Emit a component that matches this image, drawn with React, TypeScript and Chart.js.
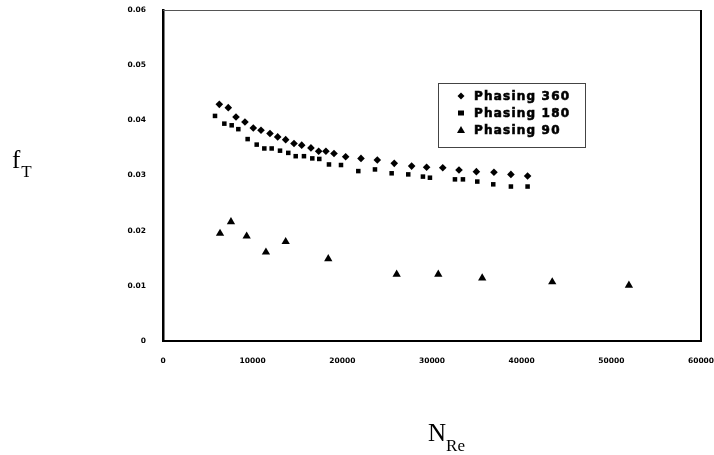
import React, { useEffect, useRef } from "react";
import { Chart, registerables } from "chart.js";

Chart.register(...registerables);

// Phasing 360 (diamonds)
const phasing360X = [6280, 7280, 8140, 9140, 10070, 10930, 11930, 12790, 13680, 14610, 15470, 16500, 17360, 18170, 19070, 20370, 22080, 23900, 25790, 27730, 29400, 31200, 33010, 34950, 36910, 38800, 40660];
const phasing360Y = [0.0429, 0.0423, 0.0406, 0.0397, 0.0386, 0.0382, 0.0376, 0.0370, 0.0365, 0.0358, 0.0355, 0.0350, 0.0344, 0.0344, 0.0340, 0.0334, 0.0331, 0.0328, 0.0322, 0.0317, 0.0315, 0.0314, 0.0310, 0.0307, 0.0306, 0.0302, 0.0299];

// Phasing 180 (squares)
const phasing180X = [5800, 6840, 7660, 8400, 9440, 10450, 11300, 12120, 13050, 13970, 14800, 15720, 16650, 17430, 18510, 19850, 21780, 23640, 25500, 27350, 28990, 29770, 32560, 33450, 35050, 36830, 38800, 40660];
const phasing180Y = [0.0408, 0.0394, 0.0391, 0.0384, 0.0366, 0.0356, 0.0349, 0.0349, 0.0345, 0.0341, 0.0335, 0.0335, 0.0331, 0.0330, 0.0320, 0.0319, 0.0308, 0.0311, 0.0304, 0.0302, 0.0298, 0.0296, 0.0293, 0.0293, 0.0289, 0.0284, 0.0280, 0.0280];

// Phasing 90 (triangles)
const phasing90X = [6360, 7580, 9330, 11480, 13680, 18430, 26060, 30700, 35600, 43410, 51960];
const phasing90Y = [0.0195, 0.0216, 0.0190, 0.0161, 0.0180, 0.0149, 0.0121, 0.0121, 0.0114, 0.0107, 0.0101];

const seriesNames = ["Phasing 360", "Phasing 180", "Phasing 90"];
const xTickValues = [0, 10000, 20000, 30000, 40000, 50000, 60000];
const yTickValues = [0, 0.01, 0.02, 0.03, 0.04, 0.05, 0.06];

const toPoints = (xs: number[], ys: number[]) => xs.map((x, i) => ({ x, y: ys[i] }));

function drawMarker(ctx: CanvasRenderingContext2D, style: string, x: number, y: number) {
  ctx.save();
  ctx.fillStyle = "#000";
  ctx.beginPath();
  if (style === "rectRot") {
    ctx.moveTo(x, y - 3.5);
    ctx.lineTo(x + 3.5, y);
    ctx.lineTo(x, y + 3.5);
    ctx.lineTo(x - 3.5, y);
    ctx.closePath();
  } else if (style === "rect") {
    ctx.rect(x - 3, y - 2.5, 6, 5);
  } else {
    ctx.moveTo(x, y - 4);
    ctx.lineTo(x + 4, y + 3);
    ctx.lineTo(x - 4, y + 3);
    ctx.closePath();
  }
  ctx.fill();
  ctx.restore();
}

const decorPlugin = {
  id: "decor",
  afterDraw(chart: any) {
    const { ctx, chartArea } = chart;
    const { left, right, top, bottom } = chartArea;
    ctx.save();
    // top & right frame
    ctx.strokeStyle = "#555";
    ctx.lineWidth = 1;
    ctx.beginPath();
    ctx.moveTo(left, top + 0.5);
    ctx.lineTo(right, top + 0.5);
    ctx.stroke();
    ctx.strokeStyle = "#000";
    ctx.lineWidth = 2;
    ctx.beginPath();
    ctx.moveTo(right, top);
    ctx.lineTo(right, bottom);
    ctx.stroke();

    // legend box
    const bx = 438, by = 83, bw = 147, bh = 64;
    ctx.fillStyle = "#fff";
    ctx.fillRect(bx, by, bw, bh);
    ctx.strokeStyle = "#444";
    ctx.lineWidth = 1;
    ctx.strokeRect(bx + 0.5, by + 0.5, bw, bh);
    const styles = ["rectRot", "rect", "triangle"];
    const rows = [96, 113, 130];
    ctx.font = "bold 12px 'DejaVu Sans'";
    (ctx as any).letterSpacing = "1.2px";
    ctx.textBaseline = "middle";
    ctx.textAlign = "left";
    ctx.fillStyle = "#000";
    ctx.strokeStyle = "#000";
    ctx.lineWidth = 0.6;
    seriesNames.forEach((name, i) => {
      drawMarker(ctx, styles[i], 461, rows[i]);
      ctx.fillText(name, 474, rows[i] + 1);
      ctx.strokeText(name, 474, rows[i] + 1);
    });
    (ctx as any).letterSpacing = "0px";

    // axis titles
    ctx.fillStyle = "#000";
    ctx.textBaseline = "alphabetic";
    ctx.font = "25px 'Liberation Serif'";
    ctx.fillText("f", 12, 168);
    const fw = ctx.measureText("f").width;
    ctx.font = "17px 'Liberation Serif'";
    ctx.fillText("T", 12 + fw + 1, 177);

    ctx.font = "25px 'Liberation Serif'";
    ctx.fillText("N", 428, 441);
    const nw = ctx.measureText("N").width;
    ctx.font = "17px 'Liberation Serif'";
    ctx.fillText("Re", 428 + nw, 451);
    ctx.restore();
  },
};

export default function App() {
  const ref = useRef<HTMLCanvasElement | null>(null);
  useEffect(() => {
    document.body.style.margin = "0";
    const canvas = ref.current;
    if (!canvas) return;
    const tickFont = { family: "'DejaVu Sans'", size: 7.5, weight: "bold" as const };
    const chart = new Chart(canvas, {
      type: "scatter",
      data: {
        datasets: [
          { label: seriesNames[0], data: toPoints(phasing360X, phasing360Y), pointStyle: "rectRot", radius: 3.8, backgroundColor: "#000", borderColor: "#000", borderWidth: 0 },
          { label: seriesNames[1], data: toPoints(phasing180X, phasing180Y), pointStyle: "rect", radius: 3.2, backgroundColor: "#000", borderColor: "#000", borderWidth: 0 },
          { label: seriesNames[2], data: toPoints(phasing90X, phasing90Y), pointStyle: "triangle", radius: 4.8, backgroundColor: "#000", borderColor: "#000", borderWidth: 0 },
        ],
      },
      options: {
        animation: false,
        responsive: false,
        maintainAspectRatio: false,
        layout: { padding: { left: 0, right: 13, top: 10, bottom: 0 } },
        plugins: { legend: { display: false }, tooltip: { enabled: false } },
        scales: {
          x: {
            type: "linear",
            min: 0,
            max: 60000,
            afterBuildTicks: (s: any) => { s.ticks = xTickValues.map((v) => ({ value: v })); },
            afterFit: (s: any) => { s.height = 114; s.paddingLeft = 0; s.paddingRight = 0; },
            grid: { display: false },
            border: { display: true, color: "#000", width: 2 },
            ticks: { color: "#000", font: tickFont, padding: 8, maxRotation: 0, callback: (v: any) => String(v) },
          },
          y: {
            type: "linear",
            min: 0,
            max: 0.06,
            afterBuildTicks: (s: any) => { s.ticks = yTickValues.map((v) => ({ value: v })); },
            afterFit: (s: any) => { s.width = 163; s.paddingTop = 0; s.paddingBottom = 0; },
            grid: { display: false },
            border: { display: true, color: "#000", width: 2.5 },
            ticks: { color: "#000", font: tickFont, padding: 9, callback: (v: any) => (v === 0 ? "0" : Number(v).toFixed(2)) },
          },
        },
      },
      plugins: [decorPlugin],
    });
    return () => chart.destroy();
  }, []);
  return (
    <div style={{ width: 714, height: 455, background: "#fff" }}>
      <canvas ref={ref} width={714} height={455} style={{ display: "block", width: 714, height: 455 }} />
    </div>
  );
}
